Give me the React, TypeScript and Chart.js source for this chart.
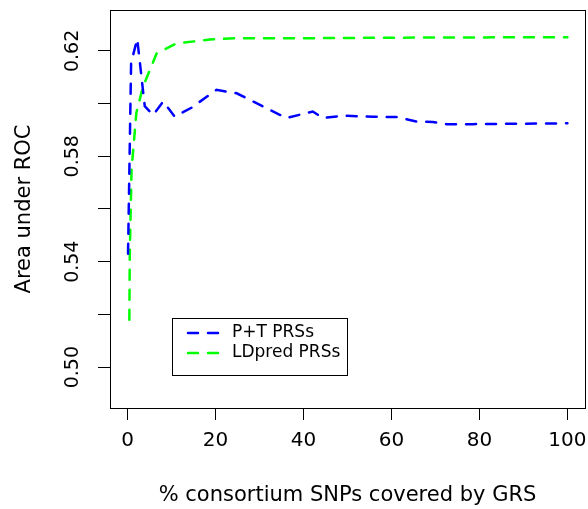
import React, { useEffect, useRef } from "react";
import { Chart, registerables } from "chart.js";

Chart.register(...registerables);

const ptX = [0.1, 0.8, 2.2, 3.9, 5.8, 8.1, 10.7, 14.5, 20.2, 24.8, 36.1, 42.1, 44.4, 49, 55.8, 61.1, 65.7, 69.4, 72.5, 78.5, 100];
const ptY = [0.543, 0.6155, 0.6245, 0.599, 0.5957, 0.6008, 0.5951, 0.5984, 0.6052, 0.6039, 0.5945, 0.597, 0.5945, 0.5954, 0.595, 0.5949, 0.5932, 0.593, 0.5922, 0.5922, 0.5925];
const ldX = [0.4, 0.5, 0.9, 2, 3.5, 6.6, 11.1, 18.7, 25, 40, 60, 80, 100];
const ldY = [0.518, 0.543, 0.575, 0.5965, 0.6064, 0.619, 0.6228, 0.6243, 0.6248, 0.6248, 0.625, 0.6251, 0.6252];

const xTicks = [0, 20, 40, 60, 80, 100];
const yTicks = [0.5, 0.52, 0.54, 0.56, 0.58, 0.6, 0.62];
const yLabelled = ["0.50", "0.54", "0.58", "0.62"];

const seriesNames = ["P+T PRSs", "LDpred PRSs"];
const seriesColors = ["#0000ff", "#00ff00"];

const FONT = "DejaVu Sans";

const boxPlugin = {
  id: "boxAndLegend",
  afterDatasetsDraw(chart: any) {
    const { ctx, chartArea } = chart;
    ctx.save();
    ctx.strokeStyle = "#000";
    ctx.lineWidth = 1;
    ctx.setLineDash([]);
    ctx.strokeRect(
      Math.round(chartArea.left) + 0.5,
      Math.round(chartArea.top) + 0.5,
      Math.round(chartArea.right - chartArea.left),
      Math.round(chartArea.bottom - chartArea.top)
    );
    // legend
    const lx = 172.5, ly = 318.5, lw = 175, lh = 57;
    ctx.fillStyle = "#fff";
    ctx.fillRect(lx, ly, lw, lh);
    ctx.strokeRect(lx, ly, lw, lh);
    chart.data.datasets.forEach((ds: any, i: number) => {
      const y = 333 + i * 20;
      ctx.save();
      ctx.strokeStyle = ds.borderColor;
      ctx.lineWidth = ds.borderWidth;
      ctx.lineCap = "round";
      ctx.setLineDash(ds.borderDash);
      ctx.beginPath();
      ctx.moveTo(188, y);
      ctx.lineTo(218, y);
      ctx.stroke();
      ctx.restore();
      ctx.fillStyle = "#000";
      ctx.font = `17px "${FONT}"`;
      ctx.textBaseline = "middle";
      ctx.textAlign = "left";
      ctx.fillText(ds.label, 232, y);
    });
    ctx.restore();
  },
};

export default function App() {
  const ref = useRef<HTMLCanvasElement | null>(null);
  useEffect(() => {
    if (!ref.current) return;
    const chart = new Chart(ref.current, {
      type: "line",
      data: {
        datasets: [
          {
            label: seriesNames[0],
            data: ptX.map((x, i) => ({ x, y: ptY[i] })),
            borderColor: seriesColors[0],
            borderWidth: 2.5,
            borderDash: [10, 10],
            borderCapStyle: "round",
            pointRadius: 0,
            fill: false,
            tension: 0,
          },
          {
            label: seriesNames[1],
            data: ldX.map((x, i) => ({ x, y: ldY[i] })),
            borderColor: seriesColors[1],
            borderWidth: 2.5,
            borderDash: [10, 10],
            borderCapStyle: "round",
            pointRadius: 0,
            fill: false,
            tension: 0,
          },
        ],
      },
      options: {
        animation: false,
        responsive: false,
        devicePixelRatio: 1,
        layout: { padding: { top: 10, right: 3, left: 0, bottom: 0 } },
        plugins: { legend: { display: false }, tooltip: { enabled: false } },
        scales: {
          x: {
            type: "linear",
            min: -4,
            max: 104,
            afterFit: (s: any) => { s.height = 101; s.paddingLeft = 0; s.paddingRight = 0; },
            afterBuildTicks: (s: any) => { s.ticks = xTicks.map((v) => ({ value: v })); },
            border: { display: false },
            grid: { drawOnChartArea: false, drawTicks: true, tickLength: 12, color: "#000", lineWidth: 1 },
            ticks: {
              autoSkip: false,
              maxRotation: 0,
              padding: 9,
              color: "#000",
              font: { family: FONT, size: 20 },
              callback: (v: any) => String(v),
            },
            title: {
              display: true,
              text: "% consortium SNPs covered by GRS",
              color: "#000",
              font: { family: FONT, size: 21 },
              padding: { top: 0, bottom: 1 },
            },
          },
          y: {
            type: "linear",
            min: 0.4845,
            max: 0.6355,
            afterFit: (s: any) => { s.width = 110; s.paddingTop = 0; s.paddingBottom = 0; },
            afterBuildTicks: (s: any) => { s.ticks = yTicks.map((v) => ({ value: v })); },
            border: { display: false },
            grid: { drawOnChartArea: false, drawTicks: true, tickLength: 12, color: "#000", lineWidth: 1 },
            ticks: {
              autoSkip: false,
              minRotation: 90,
              maxRotation: 90,
              crossAlign: "center",
              padding: 4,
              color: "#000",
              font: { family: FONT, size: 19 },
              callback: (v: any) => {
                const s = Number(v).toFixed(2);
                return yLabelled.includes(s) ? s : "";
              },
            },
            title: {
              display: true,
              text: "Area under ROC",
              color: "#000",
              font: { family: FONT, size: 21 },
              padding: { top: 12, bottom: 0 },
            },
          },
        },
      },
      plugins: [boxPlugin],
    } as any);
    return () => chart.destroy();
  }, []);
  return (
    <div style={{ position: "absolute", left: 0, top: 0, width: 588, height: 509, background: "#fff" }}>
      <canvas ref={ref} width={588} height={509} />
    </div>
  );
}
